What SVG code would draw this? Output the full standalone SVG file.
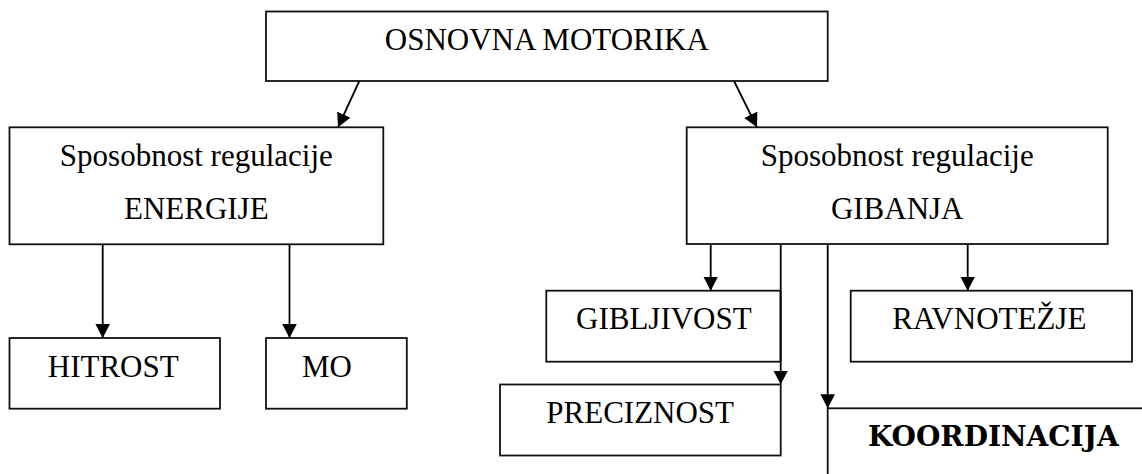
<svg xmlns="http://www.w3.org/2000/svg" width="1142" height="474" viewBox="0 0 1142 474">
  <defs>
    <marker id="arrow" markerUnits="userSpaceOnUse" markerWidth="15" markerHeight="15" refX="14" refY="7.3" orient="auto">
      <path d="M0,0 L14,7.3 L0,14.6 Z" fill="#000"/>
    </marker>
    <style>
      .box { fill: #fff; stroke: #111; stroke-width: 1.8; }
      .t { font-family: "Liberation Serif", "Times New Roman", serif; font-size: 31px; fill: #000; }
      .tb { font-family: "DejaVu Serif", serif; font-weight: bold; font-size: 28px; fill: #000; }
      .conn line { stroke: #000; stroke-width: 1.8; fill: none; }
    </style>
  </defs>
  <rect width="1142" height="474" fill="#fff"/>

  <g id="osnovna">
    <rect class="box" x="266" y="11.5" width="561.7" height="69.5"/>
    <text class="t" x="546.8" y="50" text-anchor="middle">OSNOVNA MOTORIKA</text>
  </g>

  <g id="energije">
    <rect class="box" x="9.5" y="127.3" width="373.8" height="117"/>
    <text class="t" x="196.3" y="165.5" text-anchor="middle">Sposobnost regulacije</text>
    <text class="t" x="196.3" y="218.7" text-anchor="middle">ENERGIJE</text>
  </g>

  <g id="gibanja">
    <rect class="box" x="686.7" y="127.3" width="421" height="116.7"/>
    <text class="t" x="897.2" y="166" text-anchor="middle">Sposobnost regulacije</text>
    <text class="t" x="897.2" y="219" text-anchor="middle">GIBANJA</text>
  </g>

  <g id="hitrost">
    <rect class="box" x="9.5" y="338" width="210.5" height="70.7"/>
    <text class="t" x="47.8" y="377">HITROST</text>
  </g>

  <g id="mo">
    <rect class="box" x="266" y="338" width="140.8" height="70.7"/>
    <text class="t" x="302" y="377">MO</text>
  </g>

  <g id="gibljivost">
    <rect class="box" x="546.3" y="290.7" width="234.2" height="71"/>
    <text class="t" x="576" y="329.3">GIBLJIVOST</text>
  </g>

  <g id="ravnotezje">
    <rect class="box" x="850.7" y="290.7" width="281.3" height="71"/>
    <text class="t" x="892.3" y="329">RAVNOTEŽJE</text>
  </g>

  <g id="preciznost">
    <rect class="box" x="500" y="384.5" width="280.7" height="71"/>
    <text class="t" x="546.3" y="422.7">PRECIZNOST</text>
  </g>

  <g id="koordinacija">
    <rect class="box" x="827.7" y="408.3" width="400" height="120"/>
    <text class="tb" x="868" y="445.7">KOORDINACIJA</text>
  </g>

  <g id="connectors" class="conn">
    <line x1="359.3" y1="81" x2="338" y2="127.3" marker-end="url(#arrow)"/>
    <line x1="734" y1="81" x2="757" y2="127.3" marker-end="url(#arrow)"/>
    <line x1="102.7" y1="244.3" x2="102.7" y2="338" marker-end="url(#arrow)"/>
    <line x1="289.5" y1="244.3" x2="289.5" y2="338" marker-end="url(#arrow)"/>
    <line x1="710.7" y1="244" x2="710.7" y2="290.7" marker-end="url(#arrow)"/>
    <line x1="780.7" y1="244" x2="780.7" y2="384.5" marker-end="url(#arrow)"/>
    <line x1="827.7" y1="244" x2="827.7" y2="408.3" marker-end="url(#arrow)"/>
    <line x1="967.7" y1="244" x2="967.7" y2="290.7" marker-end="url(#arrow)"/>
  </g>
</svg>
